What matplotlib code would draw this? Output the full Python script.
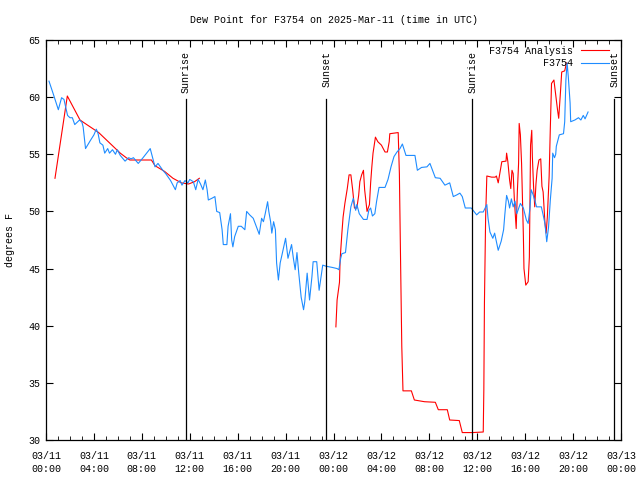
#!/usr/bin/env python3
"""
Dew point for station F3754 on 2025-Mar-11, observations vs analysis.
Time axis is hours since 2025-03-11 00:00 UTC.
"""

import numpy as np
import matplotlib
matplotlib.use('Agg')
import matplotlib.pyplot as plt
from matplotlib.ticker import MultipleLocator

# Observations (F3754), hours since 03/11 00:00 UTC
obs_hours = [0.25, 0.6, 1.03, 1.3, 1.5, 1.8, 2.0, 2.2, 2.4, 2.8, 3.0, 3.1, 3.3, 3.7, 4.0,
             4.2, 4.35, 4.5, 4.75, 4.9, 5.15, 5.3, 5.55, 5.8, 5.95, 6.2, 6.6, 6.9, 7.1,
             7.3, 7.7, 8.1, 8.7, 8.85, 9.1, 9.35, 9.75, 10.0, 10.4, 10.8, 10.95, 11.2,
             11.35, 11.6, 11.85, 12.0, 12.3, 12.5, 12.7, 12.9, 13.1, 13.3, 13.45, 13.55,
             13.85, 14.1, 14.25, 14.5, 14.7, 14.8, 15.1, 15.2, 15.4, 15.5, 15.6, 15.75,
             16.05, 16.3, 16.6, 16.75, 17.0, 17.3, 17.55, 17.8, 18.0, 18.15, 18.3, 18.5,
             18.6, 18.75, 18.85, 19.0, 19.15, 19.25, 19.4, 19.55, 19.7, 20.0, 20.2, 20.5,
             20.65, 20.8, 20.95, 21.1, 21.3, 21.5, 21.6, 21.8, 22.0, 22.2, 22.3, 22.6,
             22.8, 23.1, 23.4, 23.9, 24.3, 24.45, 24.6, 24.7, 25.0, 25.2, 25.45, 25.65,
             25.85, 25.95, 26.15, 26.5, 26.8, 26.95, 27.1, 27.25, 27.45, 27.6, 27.8, 28.3,
             28.55, 28.8, 29.05, 29.3, 29.55, 29.75, 30.05, 30.8, 31.0, 31.35, 31.8, 32.05,
             32.5, 32.9, 33.3, 33.7, 34.0, 34.3, 34.55, 34.75, 35.0, 35.5, 35.95, 36.2,
             36.5, 36.8, 36.9, 37.06, 37.3, 37.45, 37.75, 38.0, 38.2, 38.3, 38.45, 38.6,
             38.7, 38.85, 39.0, 39.15, 39.3, 39.6, 39.85, 40.1, 40.25, 40.4, 40.5, 40.65,
             40.8, 40.95, 41.35, 41.5, 41.65, 41.8, 41.95, 42.1, 42.25, 42.3, 42.45, 42.55,
             42.6, 42.85, 43.2, 43.3, 43.4, 43.5, 43.6, 43.75, 43.8, 44.15, 44.45, 44.65,
             44.85, 45.0, 45.25]
obs_dewpt = [61.4, 60.3, 58.9, 59.95, 59.8, 58.4, 58.2, 58.2, 57.6, 58.0, 57.8, 57.4, 55.5,
             56.2, 56.7, 57.2, 56.8, 56.0, 55.8, 55.1, 55.5, 55.1, 55.4, 55.0, 55.4, 54.9,
             54.4, 54.7, 54.6, 54.7, 54.2, 54.7, 55.5, 54.9, 53.9, 54.2, 53.6, 53.3, 52.7,
             51.9, 52.5, 52.7, 52.3, 52.7, 52.5, 52.8, 52.6, 51.9, 52.8, 52.4, 51.9, 52.75,
             51.9, 51.0, 51.15, 51.3, 50.0, 49.9, 48.4, 47.1, 47.1, 48.7, 49.8, 47.5, 46.9,
             47.8, 48.7, 48.7, 48.4, 50.0, 49.7, 49.4, 48.7, 48.0, 49.4, 49.1, 49.8, 50.85,
             50.0, 49.1, 48.1, 49.1, 48.4, 45.5, 44.0, 45.5, 46.2, 47.65, 45.9, 47.1, 45.9,
             44.9, 46.4, 44.6, 42.5, 41.4, 42.1, 44.6, 42.25, 44.3, 45.6, 45.6, 43.1, 45.3,
             45.2, 45.1, 45.0, 44.9, 45.9, 46.3, 46.4, 48.4, 50.4, 51.15, 50.1, 50.6, 49.8,
             49.3, 49.3, 50.1, 50.3, 49.6, 49.8, 50.9, 52.1, 52.1, 52.8, 53.9, 54.8, 55.2,
             55.5, 55.9, 54.9, 54.9, 53.6, 53.85, 53.9, 54.2, 52.95, 52.9, 52.3, 52.5, 51.3,
             51.45, 51.6, 51.3, 50.3, 50.3, 49.7, 49.95, 49.95, 50.6, 49.4, 48.2, 47.65,
             48.1, 46.6, 47.4, 48.4, 49.7, 51.4, 50.9, 50.3, 51.1, 50.4, 50.9, 49.8, 50.7,
             50.3, 49.25, 48.95, 50.3, 51.9, 51.5, 51.0, 50.4, 50.4, 49.7, 48.95, 47.35,
             48.6, 51.0, 52.9, 55.1, 54.7, 55.0, 55.7, 56.7, 56.8, 57.85, 61.5, 63.0, 61.8,
             59.5, 57.85, 58.0, 58.2, 58.0, 58.4, 58.1, 58.7]

# Analysis (F3754 Analysis); NaN marks the gap with no analysis values
ana_hours = [0.75, 1.78, 2.84, 3.4, 4.4, 5.5, 6.2, 6.7, 7.0, 8.8, 9.1, 9.9, 10.6, 11.3,
             11.9, 12.4, 12.8, 18.0,
             24.2, 24.3, 24.5, 24.55, 24.7, 24.8, 24.95, 25.15, 25.3, 25.45, 25.6, 25.75,
             25.95, 26.1, 26.2, 26.35, 26.5, 26.6, 26.8, 27.0, 27.1, 27.2, 27.3, 27.5,
             27.7, 28.0, 28.3, 28.5, 28.65, 28.7, 29.4, 29.5, 29.6, 29.7, 29.8, 30.5,
             30.75, 31.6, 32.5, 32.75, 33.5, 33.7, 34.5, 34.75, 35.6, 36.5, 36.55, 36.6,
             36.7, 36.8, 37.2, 37.5, 37.6, 37.75, 38.05, 38.4, 38.45, 38.55, 38.7, 38.8,
             38.9, 39.0, 39.1, 39.25, 39.35, 39.45, 39.5, 39.6, 39.7, 39.8, 39.85, 39.9,
             40.05, 40.25, 40.35, 40.45, 40.55, 40.6, 40.7, 40.8, 40.9, 41.0, 41.15, 41.3,
             41.4, 41.5, 41.65, 41.75, 41.85, 42.0, 42.1, 42.2, 42.4, 42.55, 42.7, 42.8,
             42.95, 43.05, 43.3, 43.45]
ana_dewpt = [52.9, 60.1, 58.0, 57.6, 56.9, 55.8, 55.1, 54.7, 54.5, 54.5, 54.0, 53.5, 52.9,
             52.5, 52.4, 52.6, 52.9, np.nan,
             39.9, 42.25, 43.8, 45.75, 48.1, 49.5, 50.7, 52.0, 53.2, 53.2, 51.9, 50.3, 50.3,
             51.4, 52.6, 53.2, 53.6, 51.9, 50.0, 50.6, 52.5, 53.9, 55.1, 56.5, 56.1, 55.8,
             55.2, 55.2, 56.1, 56.8, 56.9, 53.3, 45.6, 38.2, 34.3, 34.3, 33.5, 33.35, 33.3,
             32.65, 32.65, 31.75, 31.7, 30.65, 30.65, 30.7, 34.4, 42.0, 49.5, 53.1, 53.0,
             53.0, 53.1, 52.5, 54.35, 54.4, 55.1, 54.4, 52.75, 52.0, 53.6, 53.3, 51.0, 48.5,
             51.8, 54.2, 57.7, 56.7, 54.2, 50.0, 47.9, 45.0, 43.55, 43.85, 46.0, 55.8, 57.1,
             54.8, 52.2, 50.4, 52.4, 53.6, 54.5, 54.6, 52.2, 51.7, 49.0, 48.1, 49.5, 53.05,
             57.3, 61.2, 61.5, 60.2, 58.9, 58.15, 60.5, 62.2, 62.3, 63.0]

# Sunrise / sunset marks (hours since 03/11 00:00 UTC)
sun_hours = [11.66, 23.4, 35.58, 47.45]
sun_labels = ['Sunrise', 'Sunset', 'Sunrise', 'Sunset']

# x tick labels every 4 hours
tick_hours = list(range(0, 49, 4))
tick_labels = ['03/11\n00:00', '03/11\n04:00', '03/11\n08:00', '03/11\n12:00',
               '03/11\n16:00', '03/11\n20:00', '03/12\n00:00', '03/12\n04:00',
               '03/12\n08:00', '03/12\n12:00', '03/12\n16:00', '03/12\n20:00',
               '03/13\n00:00']


def main():
    plt.rcParams['font.family'] = ['Liberation Mono', 'DejaVu Sans Mono']
    plt.rcParams['font.size'] = 7.2

    fig = plt.figure(figsize=(6.4, 4.8), dpi=100)
    ax = fig.add_axes([46 / 640, 40 / 480, 575 / 640, 400 / 480])

    ax.plot(ana_hours, ana_dewpt, color='#ff0000', linewidth=0.8, label='F3754 Analysis')
    ax.plot(obs_hours, obs_dewpt, color='#1e8cff', linewidth=0.8, label='F3754')

    # sunrise / sunset lines with rotated labels above them
    for h, lab in zip(sun_hours, sun_labels):
        ax.axvline(h, ymin=0, ymax=0.8525, color='black', linewidth=0.9)
        ax.text(h, 0.9725, lab, transform=ax.get_xaxis_transform(), rotation=90,
                ha='center', va='top')

    ax.set_xlim(0, 48)
    ax.set_ylim(30, 65)
    ax.set_xticks(tick_hours)
    ax.set_xticklabels(tick_labels, linespacing=1.3)
    ax.xaxis.set_minor_locator(MultipleLocator(1))
    ax.yaxis.set_major_locator(MultipleLocator(5))
    ax.tick_params(which='both', direction='in', top=True, right=True)
    ax.tick_params(axis='x', which='major', length=5, pad=8)
    ax.tick_params(axis='x', which='minor', length=3)
    ax.tick_params(axis='y', which='major', length=5, pad=4)
    for s in ax.spines.values():
        s.set_linewidth(0.9)

    ax.set_ylabel('degrees F', labelpad=10)
    ax.set_title('Dew Point for F3754 on 2025-Mar-11 (time in UTC)', fontsize=7.2, pad=12)

    ax.legend(loc='upper right', bbox_to_anchor=(0.988, 0.998), frameon=False,
              markerfirst=False, borderpad=0, labelspacing=0.25, handlelength=2.8,
              handletextpad=0.8)

    fig.savefig('out.png', dpi=100)


if __name__ == "__main__":
    main()
